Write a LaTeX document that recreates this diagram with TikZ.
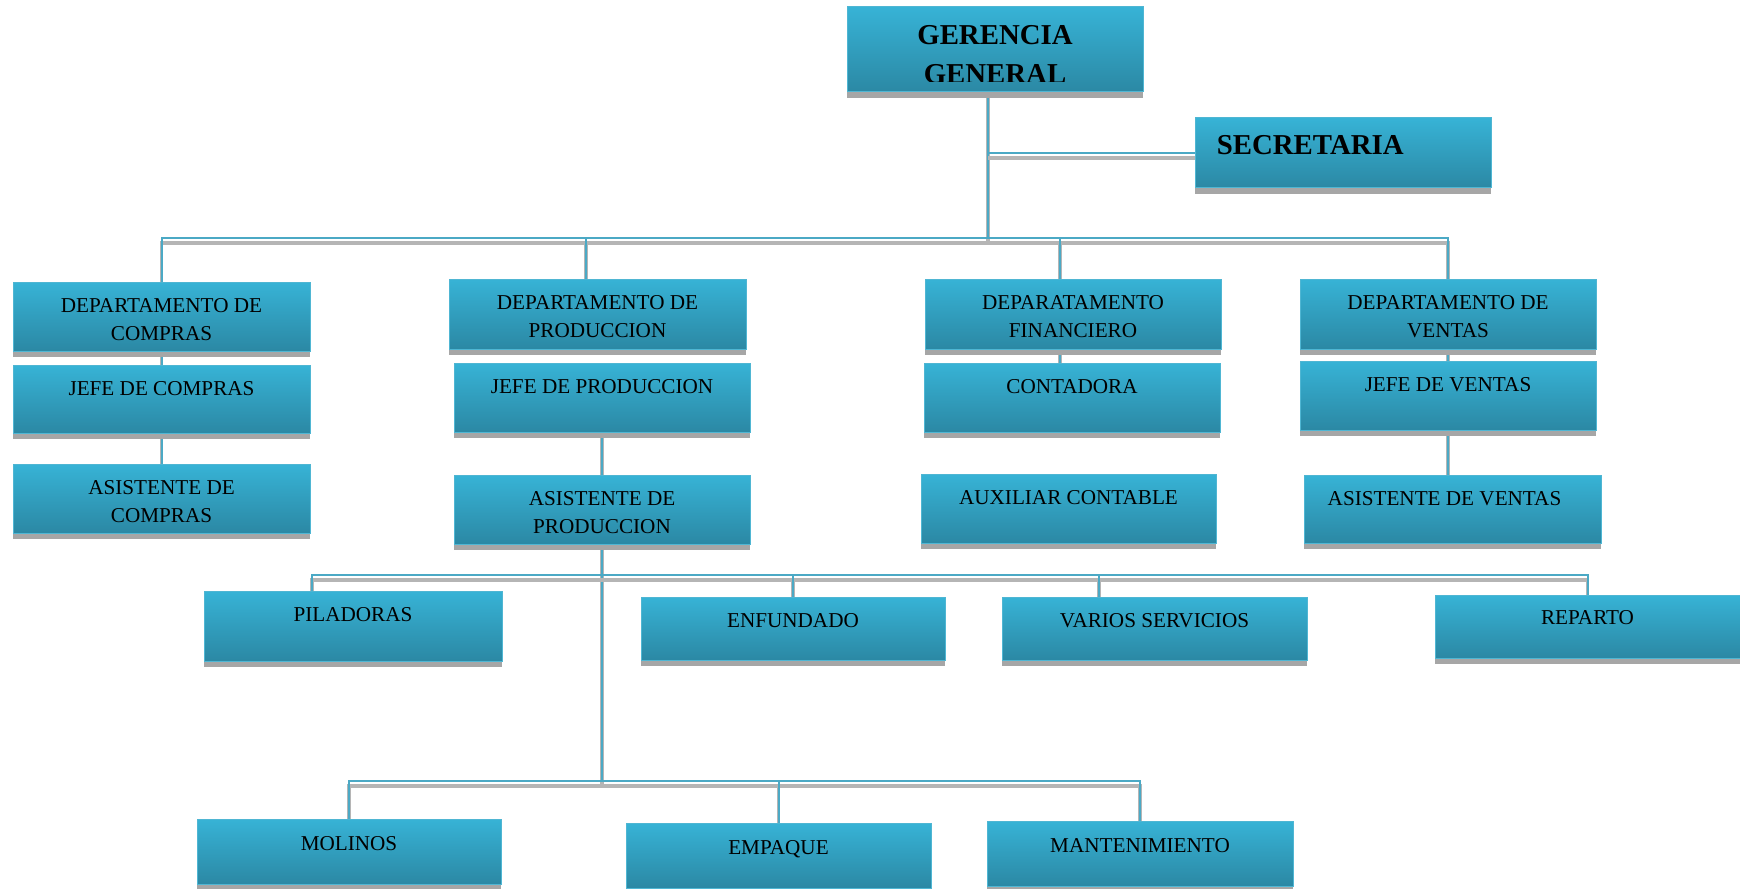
\documentclass[tikz,border=0pt]{standalone}
\usepackage{fontspec}
\setmainfont{Liberation Serif}
\usetikzlibrary{calc,shadows}
\definecolor{boxtop}{HTML}{37B3D6}
\definecolor{boxbot}{HTML}{2B88A4}
\definecolor{boxedge}{HTML}{4FB6D3}
\definecolor{linecol}{HTML}{4BA9C5}
\definecolor{shgray}{HTML}{A6A6A6}
\definecolor{lnshadow}{HTML}{B5B5B5}
\pgfdeclarelayer{bg}
\pgfsetlayers{bg,main}
\tikzset{
  orgbox/.style 2 args={rectangle, inner sep=0pt, minimum width=#1*0.2mm, minimum height=#2*0.2mm,
    top color=boxtop, bottom color=boxbot, draw=boxedge, line width=0.2mm,
    drop shadow={shadow xshift=0mm, shadow yshift=-1.2mm, fill=shgray, opacity=1}},
  lbl/.style={inner sep=0pt, align=center, anchor=north, font=\fontsize{12.05}{15.9}\selectfont},
  blbl/.style={inner sep=0pt, align=center, anchor=north, font=\fontsize{16.4}{21.7}\selectfont\bfseries},
  conn/.style={draw=linecol, line width=0.4mm,
    preaction={draw=lnshadow, line width=0.7mm, transform canvas={yshift=-1mm}}},
}
\begin{document}
\begin{tikzpicture}[x=0.2mm,y=-0.2mm]
\useasboundingbox (0,0) rectangle (1740,889);
% boxes
\node[orgbox={296}{85}] (gg) at (995,49.5) {};
\node[orgbox={296}{70}] (sec) at (1343,153) {};
\node[orgbox={297}{69}] (dc) at (161.5,316.5) {};
\node[orgbox={297}{68}] (jc) at (161.5,399) {};
\node[orgbox={297}{69}] (ac) at (161.5,498.5) {};
\node[orgbox={297}{70}] (dp) at (597.5,314) {};
\node[orgbox={296}{69}] (jp) at (602,397.5) {};
\node[orgbox={296}{69}] (ap) at (602,509.5) {};
\node[orgbox={296}{70}] (df) at (1073,314) {};
\node[orgbox={296}{69}] (co) at (1072,397.5) {};
\node[orgbox={295}{69}] (au) at (1068.5,508.5) {};
\node[orgbox={296}{70}] (dv) at (1448,314) {};
\node[orgbox={296}{69}] (jv) at (1448,395.5) {};
\node[orgbox={297}{68}] (av) at (1452.5,509) {};
\node[orgbox={298}{70}] (pi) at (353,626) {};
\node[orgbox={304}{63}] (en) at (793,628.5) {};
\node[orgbox={305}{63}] (vs) at (1154.5,628.5) {};
\node[orgbox={305}{63}] (re) at (1587.5,626.5) {};
\node[orgbox={304}{65}] (mo) at (349,851.5) {};
\node[orgbox={305}{65}] (em) at (778.5,855.5) {};
\node[orgbox={306}{65}] (ma) at (1140,853.5) {};
% texts
\begin{scope}
\clip (847,7) rectangle (1143,82);
\node[blbl] (t-gg) at ($(gg.north)+(0,19)$) {GERENCIA\\GENERAL};
\end{scope}
\node[blbl, anchor=north west] (t-sec) at ($(sec.north west)+(22,18)$) {SECRETARIA};
\node[lbl] (t-dc) at ($(dc.north)+(0,17)$) {DEPARTAMENTO DE\\COMPRAS};
\node[lbl] (t-jc) at ($(jc.north)+(0,17)$) {JEFE DE COMPRAS};
\node[lbl] (t-ac) at ($(ac.north)+(0,17)$) {ASISTENTE DE\\COMPRAS};
\node[lbl] (t-dp) at ($(dp.north)+(0,17)$) {DEPARTAMENTO DE\\PRODUCCION};
\node[lbl] (t-jp) at ($(jp.north)+(0,17)$) {JEFE DE PRODUCCION};
\node[lbl] (t-ap) at ($(ap.north)+(0,17)$) {ASISTENTE DE\\PRODUCCION};
\node[lbl] (t-df) at ($(df.north)+(0,17)$) {DEPARATAMENTO\\FINANCIERO};
\node[lbl] (t-co) at ($(co.north)+(0,17)$) {CONTADORA};
\node[lbl] (t-au) at ($(au.north)+(0,17)$) {AUXILIAR CONTABLE};
\node[lbl] (t-dv) at ($(dv.north)+(0,17)$) {DEPARTAMENTO DE\\VENTAS};
\node[lbl] (t-jv) at ($(jv.north)+(0,17)$) {JEFE DE VENTAS};
\node[lbl] (t-av) at ($(av.north)+(-8,17)$) {ASISTENTE DE VENTAS};
\node[lbl] (t-pi) at ($(pi.north)+(0,17)$) {PILADORAS};
\node[lbl] (t-en) at ($(en.north)+(0,17)$) {ENFUNDADO};
\node[lbl] (t-vs) at ($(vs.north)+(0,17)$) {VARIOS SERVICIOS};
\node[lbl] (t-re) at ($(re.north)+(0,16)$) {REPARTO};
\node[lbl] (t-mo) at ($(mo.north)+(0,18)$) {MOLINOS};
\node[lbl] (t-em) at ($(em.north)+(0,18)$) {EMPAQUE};
\node[lbl] (t-ma) at ($(ma.north)+(0,18)$) {MANTENIMIENTO};
% connectors
\coordinate (j0) at (988,238);
\coordinate (dP) at (586,238);
\coordinate (dF) at (1060,238);
\coordinate (k1) at (312,575);
\coordinate (k2) at (1099,575);
\coordinate (j2) at (602,781);
\begin{pgfonlayer}{bg}
\draw[conn] (gg.south -| j0) -- (j0);
\draw[conn] (sec.west -| j0) -- (sec.west);
\draw[conn] (dc.north) -- (dc.north |- j0) -- (dv.north |- j0) -- (dv.north);
\draw[conn] (dP) -- (dP |- dp.north);
\draw[conn] (dF) -- (dF |- df.north);
\draw[conn] (dc.south) -- (jc.north);
\draw[conn] (jc.south) -- (ac.north);
\draw[conn] (jp.south) -- (ap.north);
\draw[conn] (df.south -| dF) -- (co.north -| dF);
\draw[conn] (dv.south) -- (jv.north);
\draw[conn] (jv.south) -- (jv.south |- av.north);
\draw[conn] (ap.south) -- (ap.south |- j2);
\draw[conn] (k1 |- pi.north) -- (k1) -- (re.north |- k1) -- (re.north);
\draw[conn] (en.north |- k1) -- (en.north);
\draw[conn] (k2) -- (k2 |- vs.north);
\draw[conn] (mo.north) -- (mo.north |- j2) -- (ma.north |- j2) -- (ma.north);
\draw[conn] (em.north |- j2) -- (em.north);
\end{pgfonlayer}
\end{tikzpicture}
\end{document}
